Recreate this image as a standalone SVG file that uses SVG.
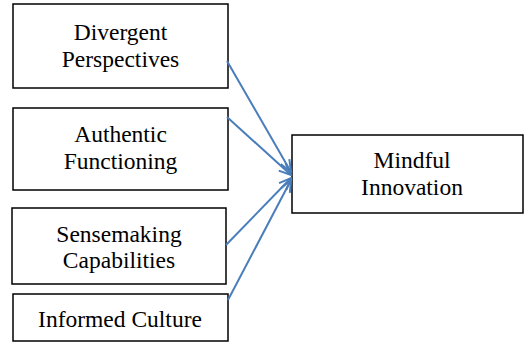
<svg xmlns="http://www.w3.org/2000/svg" width="524" height="343" viewBox="0 0 524 343">
<style>
.box{fill:#fff;stroke:#000;stroke-width:1.5}
.t{font-family:"Liberation Serif","Times New Roman",serif;font-size:23.5px;fill:#000;text-anchor:middle}
.c{fill:none;stroke:#4a7ebb;stroke-width:2}
</style>
<defs>
<marker id="ah" markerWidth="14" markerHeight="12" refX="13" refY="6" orient="auto" markerUnits="userSpaceOnUse">
<path d="M1,1 L13,6 L1,11" fill="none" stroke="#4a7ebb" stroke-width="2"/>
</marker>
</defs>
<rect width="524" height="343" fill="#fff"/>
<g id="n1"><rect class="box" x="13" y="4" width="215" height="84"/><text class="t" x="120.5" y="40">Divergent</text><text class="t" x="120.5" y="67">Perspectives</text></g>
<g id="n2"><rect class="box" x="13" y="108" width="215" height="82"/><text class="t" x="120.5" y="142">Authentic</text><text class="t" x="120.5" y="169">Functioning</text></g>
<g id="n3"><rect class="box" x="12" y="208" width="214" height="76"/><text class="t" x="119" y="242">Sensemaking</text><text class="t" x="119" y="268">Capabilities</text></g>
<g id="n4"><rect class="box" x="13" y="294" width="215" height="47"/><text class="t" x="120" y="327">Informed Culture</text></g>
<g id="n5"><rect class="box" x="292" y="135" width="231" height="78"/><text class="t" x="412" y="168">Mindful</text><text class="t" x="412" y="195">Innovation</text></g>
<g id="connectors">
<line class="c" x1="227" y1="61" x2="291" y2="172" marker-end="url(#ah)"/>
<line class="c" x1="227" y1="117" x2="291" y2="175" marker-end="url(#ah)"/>
<line class="c" x1="226" y1="245" x2="291" y2="178" marker-end="url(#ah)"/>
<line class="c" x1="228" y1="300" x2="291" y2="180" marker-end="url(#ah)"/>
</g>
</svg>
